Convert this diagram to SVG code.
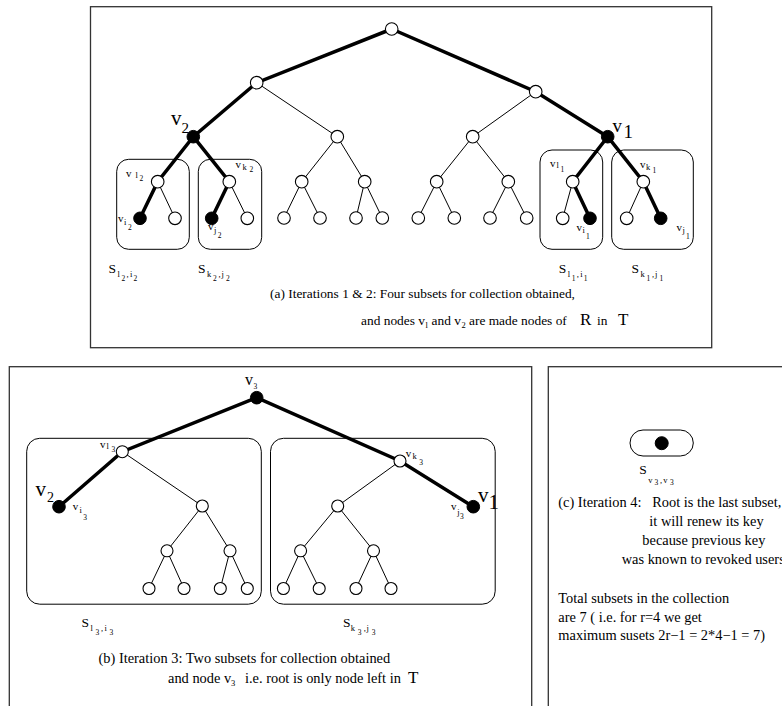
<svg xmlns="http://www.w3.org/2000/svg" width="782" height="706" viewBox="0 0 782 706">
<style>
text{font-family:"Liberation Serif","Times New Roman",serif;fill:#000}
.panel{fill:none;stroke:#333;stroke-width:1.3}
.box{fill:none;stroke:#000;stroke-width:1}
.thick{stroke:#000;stroke-width:3.5;stroke-linecap:round;fill:none}
.thin{stroke:#000;stroke-width:1;fill:none}
.open{fill:#fff;stroke:#000;stroke-width:1.1}
.full{fill:#000;stroke:#000;stroke-width:1}
.lv{font-size:11px}
.s1{font-size:8.5px}
.s2{font-size:7.5px}
.sS{font-size:13.5px}
.cap{font-size:13.4px}
.capb{font-size:14.4px}
.big{font-size:17px}
</style>
<rect width="782" height="706" fill="#fff"/>
<g id="panels">
<rect class="panel" x="90.5" y="6.7" width="621.2" height="341"/>
<rect class="panel" x="9.3" y="366.7" width="522.4" height="360"/>
<rect class="panel" x="548.3" y="366.7" width="260" height="360"/>
</g>
<g id="subset-boxes">
<rect class="box" x="116.7" y="159.3" width="72.6" height="90" rx="12"/>
<rect class="box" x="198.3" y="159.3" width="63.4" height="90" rx="12"/>
<rect class="box" x="540" y="150" width="62.7" height="99.3" rx="12"/>
<rect class="box" x="611.7" y="150" width="81.6" height="99.3" rx="12"/>
<rect class="box" x="26.7" y="438.3" width="234.6" height="165.9" rx="13"/>
<rect class="box" x="270.5" y="438.3" width="224.7" height="165.9" rx="13"/>
<rect class="box" x="630" y="430" width="63.3" height="26" rx="13"/>
</g>
<g id="connectors">
<path class="thick" d="M391.7,29 L256.7,82.7 L193.3,136.7 L157.7,181.7 L140,218.3"/>
<path class="thick" d="M193.3,136.7 L229.3,181.7 L211.7,218.3"/>
<path class="thick" d="M391.7,29 L535.7,91.7 L607.7,136.7 L572.7,181.7 L590,218.3"/>
<path class="thick" d="M607.7,136.7 L643.3,181.7 L660.7,218.3"/>
<path class="thin" d="M157.7,181.7 L175,218.3 M229.3,181.7 L247.3,218.3 M572.7,181.7 L562.7,218.3 M643.3,181.7 L626.7,218.3"/>
<path class="thin" d="M256.7,82.7 L337.3,136.7 M337.3,136.7 L301.7,181.7 M337.3,136.7 L364.7,181.7 M301.7,181.7 L284,218 M301.7,181.7 L320,218 M364.7,181.7 L356,218 M364.7,181.7 L382.3,218"/>
<path class="thin" d="M535.7,91.7 L472.7,136.7 M472.7,136.7 L436.7,181.7 M472.7,136.7 L508.3,181.7 M436.7,181.7 L418.3,218 M436.7,181.7 L454.3,218 M508.3,181.7 L490,218 M508.3,181.7 L526.7,218"/>
<path class="thick" d="M59,506.7 L122.3,451.7 L256.7,397.7 L400,461 L473.3,506.7"/>
<path class="thin" d="M122.3,451.7 L202.3,506 M202.3,506 L167,550.8 M202.3,506 L230,550.8 M167,550.8 L149,588.5 M167,550.8 L184,588.5 M230,550.8 L220.3,588.5 M230,550.8 L247.3,588.5"/>
<path class="thin" d="M400,461 L337.7,506 M337.7,506 L300.6,550.8 M337.7,506 L373.5,550.8 M300.6,550.8 L283.4,588.5 M300.6,550.8 L319.2,588.5 M373.5,550.8 L356,588.5 M373.5,550.8 L391,588.5"/>
</g>
<g id="root-a"><circle class="open" cx="391.7" cy="29" r="6.3"/></g>
<g id="a-l1"><circle class="open" cx="256.7" cy="82.7" r="6.3"/></g>
<g id="a-r1"><circle class="open" cx="535.7" cy="91.7" r="6.3"/></g>
<g id="a-v2"><circle class="full" cx="193.3" cy="136.7" r="6.3"/>
<text x="171" y="125" style="font-size:21px">v</text><text x="181.5" y="132.7" style="font-size:15px">2</text></g>
<g id="a-v1"><circle class="full" cx="607.7" cy="136.7" r="6.3"/>
<text x="612.5" y="131.7" style="font-size:19px">v</text><text x="623.5" y="137.7" style="font-size:19px">1</text></g>
<g id="a-m1"><circle class="open" cx="337.3" cy="136.7" r="6.3"/></g>
<g id="a-m2"><circle class="open" cx="472.7" cy="136.7" r="6.3"/></g>
<g id="a-m3"><circle class="open" cx="301.7" cy="181.7" r="6.3"/></g>
<g id="a-m4"><circle class="open" cx="364.7" cy="181.7" r="6.3"/></g>
<g id="a-m5"><circle class="open" cx="436.7" cy="181.7" r="6.3"/></g>
<g id="a-m6"><circle class="open" cx="508.3" cy="181.7" r="6.3"/></g>
<g id="a-leaves">
<circle class="open" cx="284" cy="218" r="6.3"/><circle class="open" cx="320" cy="218" r="6.3"/>
<circle class="open" cx="356" cy="218" r="6.3"/><circle class="open" cx="382.3" cy="218" r="6.3"/>
<circle class="open" cx="418.3" cy="218" r="6.3"/><circle class="open" cx="454.3" cy="218" r="6.3"/>
<circle class="open" cx="490" cy="218" r="6.3"/><circle class="open" cx="526.7" cy="218" r="6.3"/>
</g>
<g id="a-vl2"><circle class="open" cx="157.7" cy="181.7" r="6.3"/>
<text class="lv"><tspan x="126" y="176.7">v</tspan><tspan class="s1" x="135.5" y="177.8">l</tspan><tspan class="s2" x="139.5" y="180.5">2</tspan></text></g>
<g id="a-vi2"><circle class="full" cx="140" cy="218.3" r="6.3"/>
<text class="lv"><tspan x="118" y="222.3">v</tspan><tspan class="s1" x="124" y="224.5">i</tspan><tspan class="s2" x="128" y="230">2</tspan></text></g>
<g id="a-o2"><circle class="open" cx="175" cy="218.3" r="6.3"/></g>
<g id="a-vk2"><circle class="open" cx="229.3" cy="181.7" r="6.3"/>
<text class="lv"><tspan x="235.5" y="168.3">v</tspan><tspan class="s1" x="242.5" y="169.8">k</tspan><tspan class="s2" x="249.5" y="172">2</tspan></text></g>
<g id="a-vj2"><circle class="full" cx="211.7" cy="218.3" r="6.3"/>
<text class="lv"><tspan x="208" y="230">v</tspan><tspan class="s1" x="214" y="232.5">j</tspan><tspan class="s2" x="217.7" y="238.3">2</tspan></text></g>
<g id="a-o3"><circle class="open" cx="247.3" cy="218.3" r="6.3"/></g>
<g id="a-vl1"><circle class="open" cx="572.7" cy="181.7" r="6.3"/>
<text class="lv"><tspan x="550" y="166.7">v</tspan><tspan class="s1" x="556.5" y="167.8">l</tspan><tspan class="s2" x="560.5" y="171.7">1</tspan></text></g>
<g id="a-o4"><circle class="open" cx="562.7" cy="218.3" r="6.3"/></g>
<g id="a-vi1"><circle class="full" cx="590" cy="218.3" r="6.3"/>
<text class="lv"><tspan x="576.5" y="230.7">v</tspan><tspan class="s1" x="582.5" y="232.5">i</tspan><tspan class="s2" x="586" y="239.3">1</tspan></text></g>
<g id="a-vk1"><circle class="open" cx="643.3" cy="181.7" r="6.3"/>
<text class="lv"><tspan x="640" y="168.3">v</tspan><tspan class="s1" x="646" y="169.8">k</tspan><tspan class="s2" x="652.5" y="173.3">1</tspan></text></g>
<g id="a-o5"><circle class="open" cx="626.7" cy="218.3" r="6.3"/></g>
<g id="a-vj1"><circle class="full" cx="660.7" cy="218.3" r="6.3"/>
<text class="lv"><tspan x="676.5" y="230.7">v</tspan><tspan class="s1" x="682.5" y="232.5">j</tspan><tspan class="s2" x="686" y="239.3">1</tspan></text></g>
<g id="a-subset-labels">
<text><tspan class="sS" x="108.4" y="272.5">S</tspan><tspan class="s1" x="117.4" y="276.5">l</tspan><tspan class="s2" x="121.4" y="280.5">2</tspan><tspan class="s1" x="126.4" y="276.5">,</tspan><tspan class="s1" x="129.9" y="276.5">i</tspan><tspan class="s2" x="133.4" y="280.5">2</tspan></text>
<text><tspan class="sS" x="197.9" y="272.5">S</tspan><tspan class="s1" x="206.9" y="276.5">k</tspan><tspan class="s2" x="212.9" y="280.5">2</tspan><tspan class="s1" x="218.4" y="276.5">,</tspan><tspan class="s1" x="221.4" y="276.5">j</tspan><tspan class="s2" x="225.9" y="280.5">2</tspan></text>
<text><tspan class="sS" x="558.8" y="272.5">S</tspan><tspan class="s1" x="567.8" y="276.5">l</tspan><tspan class="s2" x="571.8" y="280.5">1</tspan><tspan class="s1" x="576.8" y="276.5">,</tspan><tspan class="s1" x="580.3" y="276.5">i</tspan><tspan class="s2" x="583.8" y="280.5">1</tspan></text>
<text><tspan class="sS" x="631.5" y="272.5">S</tspan><tspan class="s1" x="640.5" y="276.5">k</tspan><tspan class="s2" x="646.5" y="280.5">1</tspan><tspan class="s1" x="652" y="276.5">,</tspan><tspan class="s1" x="655" y="276.5">j</tspan><tspan class="s2" x="659.5" y="280.5">1</tspan></text>
</g>
<g id="caption-a">
<text class="cap" x="270" y="298">(a) Iterations 1 &amp; 2: Four subsets for collection obtained,</text>
<text class="cap"><tspan x="361" y="325">and nodes v</tspan><tspan class="s1" x="425.5" y="328">l</tspan><tspan x="431.5" y="325">and v</tspan><tspan class="s1" x="461.5" y="328">2</tspan><tspan x="469" y="325">are made nodes of</tspan></text>
<text class="big" x="580" y="325">R</text><text class="cap" x="597" y="325">in</text><text class="big" x="618" y="325">T</text>
</g>
<g id="b-v3"><circle class="full" cx="256.7" cy="397.7" r="6.3"/>
<text><tspan x="245" y="385" style="font-size:16px">v</tspan><tspan class="s2" x="253.5" y="388.5">3</tspan></text></g>
<g id="b-vl3"><circle class="open" cx="122.3" cy="451.7" r="6"/>
<text class="lv"><tspan x="100" y="447.7">v</tspan><tspan class="s1" x="106.5" y="448.8">l</tspan><tspan class="s2" x="111.5" y="451.7">3</tspan></text></g>
<g id="b-v2"><circle class="full" cx="59" cy="506.7" r="6.3"/>
<text x="35.5" y="495.7" style="font-size:21px">v</text><text x="47" y="501.7" style="font-size:14px">2</text>
<text class="lv"><tspan x="72.7" y="510">v</tspan><tspan class="s1" x="79.5" y="513">i</tspan><tspan class="s2" x="83.3" y="520">3</tspan></text></g>
<g id="b-m1"><circle class="open" cx="202.3" cy="506" r="6"/></g>
<g id="b-m2"><circle class="open" cx="167" cy="550.8" r="6"/></g>
<g id="b-m3"><circle class="open" cx="230" cy="550.8" r="6"/></g>
<g id="b-vk3"><circle class="open" cx="400" cy="461" r="6"/>
<text class="lv"><tspan x="405.7" y="456.7">v</tspan><tspan class="s1" x="412.5" y="459.3">k</tspan><tspan class="s2" x="419.3" y="465">3</tspan></text></g>
<g id="b-v1"><circle class="full" cx="473.3" cy="506.7" r="6.3"/>
<text x="478" y="501.7" style="font-size:21px">v</text><text x="488.5" y="509.3" style="font-size:21px">1</text>
<text class="lv"><tspan x="451" y="510">v</tspan><tspan class="s1" x="457.3" y="515">j</tspan><tspan class="s2" x="460" y="519">3</tspan></text></g>
<g id="b-m4"><circle class="open" cx="337.7" cy="506" r="6"/></g>
<g id="b-m5"><circle class="open" cx="300.6" cy="550.8" r="6"/></g>
<g id="b-m6"><circle class="open" cx="373.5" cy="550.8" r="6"/></g>
<g id="b-leaves">
<circle class="open" cx="149" cy="588.5" r="6"/><circle class="open" cx="184" cy="588.5" r="6"/>
<circle class="open" cx="220.3" cy="588.5" r="6"/><circle class="open" cx="247.3" cy="588.5" r="6"/>
<circle class="open" cx="283.4" cy="588.5" r="6"/><circle class="open" cx="319.2" cy="588.5" r="6"/>
<circle class="open" cx="356" cy="588.5" r="6"/><circle class="open" cx="391" cy="588.5" r="6"/>
</g>
<g id="b-subset-labels">
<text><tspan class="sS" x="81.4" y="627">S</tspan><tspan class="s1" x="90.4" y="631">l</tspan><tspan class="s2" x="95.4" y="635">3</tspan><tspan class="s1" x="100.9" y="631">,</tspan><tspan class="s1" x="104.4" y="631">i</tspan><tspan class="s2" x="109.4" y="635">3</tspan></text>
<text><tspan class="sS" x="343" y="627">S</tspan><tspan class="s1" x="350.8" y="631">k</tspan><tspan class="s2" x="357.8" y="635">3</tspan><tspan class="s1" x="363.8" y="631">,</tspan><tspan class="s1" x="366.5" y="631">j</tspan><tspan class="s2" x="371.8" y="635">3</tspan></text>
</g>
<g id="caption-b">
<text class="capb" x="98.5" y="663">(b) Iteration 3: Two subsets for collection obtained</text>
<text class="capb"><tspan x="168" y="683">and node v</tspan><tspan class="s1" x="231" y="686">3</tspan><tspan x="245" y="683">i.e. root is only node left in</tspan></text>
<text class="big" x="408" y="683">T</text>
</g>
<g id="c-root"><circle class="full" cx="661.7" cy="443.2" r="6.5"/>
<text><tspan class="sS" x="639.3" y="474.3">S</tspan><tspan class="s1" x="648.3" y="482.5">v</tspan><tspan class="s2" x="654.5" y="485">3</tspan><tspan class="s1" x="660" y="482.5">,</tspan><tspan class="s1" x="663.3" y="482.5">v</tspan><tspan class="s2" x="670" y="485">3</tspan></text></g>
<g id="caption-c">
<text class="capb" x="558.3" y="507" xml:space="preserve">(c) Iteration 4:   Root is the last subset,</text>
<text class="capb" x="649.3" y="526">it will renew its key</text>
<text class="capb" x="642.3" y="545">because previous key</text>
<text class="capb" x="621.7" y="564">was known to revoked users</text>
<text class="capb" x="558.3" y="603">Total subsets in the collection</text>
<text class="capb" x="558.3" y="621.5">are 7 ( i.e. for r=4 we get</text>
<text class="capb" x="558.3" y="640">maximum susets 2r−1 = 2*4−1 = 7)</text>
</g>
</svg>
